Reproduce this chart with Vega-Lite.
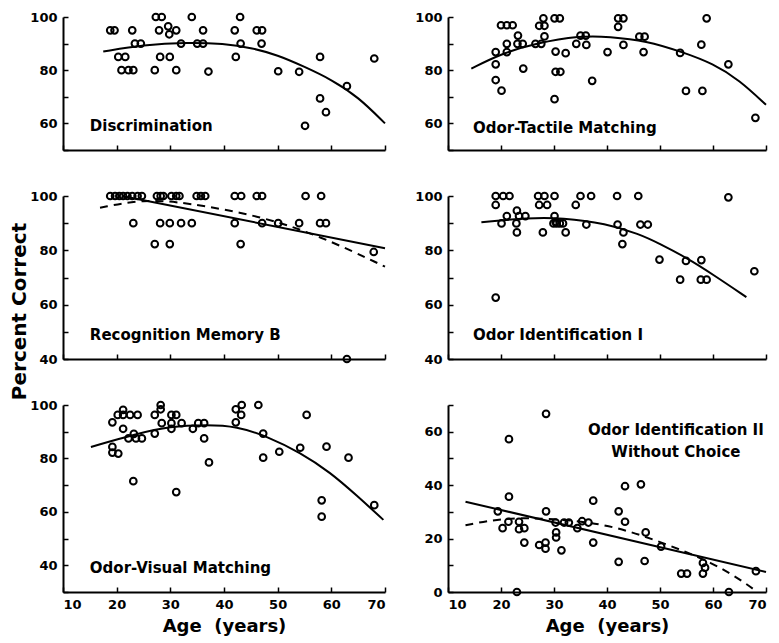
{
"$schema": "https://vega.github.io/schema/vega-lite/v6.json",
"padding": {"left": 9, "top": 9, "right": 5, "bottom": 5},
"config": {
 "view": {"stroke": null},
 "font": "DejaVu Sans",
 "point": {"opacity": 1},
 "axis": {"grid": false, "domainColor": "black", "domainWidth": 2, "tickColor": "black", "tickWidth": 1.5, "tickSize": -5, "ticks": true, "labelFont": "DejaVu Sans", "labelFontWeight": "bold", "labelFontSize": 13, "labelColor": "black", "labelPadding": 11, "titleFont": "DejaVu Sans", "titleFontWeight": "bold", "titleColor": "black", "titleFontSize": 18}
},
"datasets": {
 "pts": [
  {"p":"D","age":27.3,"pct":100},{"p":"D","age":28.4,"pct":100},{"p":"D","age":34,"pct":100},{"p":"D","age":43,"pct":100},
  {"p":"D","age":18.8,"pct":95},{"p":"D","age":19.6,"pct":95},{"p":"D","age":22.9,"pct":95},{"p":"D","age":27.9,"pct":95},{"p":"D","age":29.6,"pct":96.5},{"p":"D","age":29.8,"pct":93.5},{"p":"D","age":31.1,"pct":95},{"p":"D","age":36.1,"pct":95},{"p":"D","age":42,"pct":95},{"p":"D","age":46.1,"pct":95},{"p":"D","age":47.1,"pct":95},
  {"p":"D","age":23.4,"pct":90},{"p":"D","age":24.5,"pct":90},{"p":"D","age":32,"pct":90},{"p":"D","age":35,"pct":90},{"p":"D","age":36.1,"pct":90},{"p":"D","age":43.1,"pct":90},{"p":"D","age":47,"pct":90},
  {"p":"D","age":20.3,"pct":85},{"p":"D","age":21.6,"pct":85},{"p":"D","age":28.1,"pct":85},{"p":"D","age":29.9,"pct":85},{"p":"D","age":42.2,"pct":85},{"p":"D","age":57.9,"pct":85},
  {"p":"D","age":20.9,"pct":80},{"p":"D","age":22.2,"pct":80},{"p":"D","age":23.1,"pct":80},{"p":"D","age":27.1,"pct":80},{"p":"D","age":31.1,"pct":80},{"p":"D","age":37.1,"pct":79.5},{"p":"D","age":50.1,"pct":79.6},{"p":"D","age":54,"pct":79.4},
  {"p":"D","age":68,"pct":84.4},{"p":"D","age":62.9,"pct":74},{"p":"D","age":57.9,"pct":69.4},{"p":"D","age":59,"pct":64.2},{"p":"D","age":55.1,"pct":59.1},

  {"p":"T","age":19,"pct":86.8},{"p":"T","age":19,"pct":82.2},{"p":"T","age":19,"pct":76.3},{"p":"T","age":20.1,"pct":72.3},
  {"p":"T","age":20,"pct":96.9},{"p":"T","age":21.1,"pct":96.9},{"p":"T","age":22.2,"pct":96.9},
  {"p":"T","age":21.1,"pct":89.9},{"p":"T","age":21.1,"pct":86.8},{"p":"T","age":23.2,"pct":93},{"p":"T","age":23.1,"pct":89.9},{"p":"T","age":24.1,"pct":89.9},{"p":"T","age":24.2,"pct":80.6},
  {"p":"T","age":26.5,"pct":89.9},{"p":"T","age":27.6,"pct":89.9},{"p":"T","age":27.2,"pct":96.7},{"p":"T","age":28.2,"pct":96.7},{"p":"T","age":28,"pct":99.5},{"p":"T","age":28.2,"pct":92.7},
  {"p":"T","age":30.1,"pct":99.5},{"p":"T","age":31.1,"pct":99.5},{"p":"T","age":30.3,"pct":87},{"p":"T","age":30.3,"pct":79.4},{"p":"T","age":31.2,"pct":79.4},{"p":"T","age":30.1,"pct":69.1},
  {"p":"T","age":32.2,"pct":86.4},{"p":"T","age":34.2,"pct":89.9},{"p":"T","age":35,"pct":93},{"p":"T","age":36,"pct":93},{"p":"T","age":36.1,"pct":89.5},{"p":"T","age":37.2,"pct":76},
  {"p":"T","age":40.1,"pct":86.8},{"p":"T","age":42.1,"pct":96.3},{"p":"T","age":42.1,"pct":99.5},{"p":"T","age":43.1,"pct":99.5},{"p":"T","age":43.1,"pct":89.5},
  {"p":"T","age":46.1,"pct":92.6},{"p":"T","age":47.1,"pct":92.6},{"p":"T","age":46.9,"pct":86.8},
  {"p":"T","age":53.8,"pct":86.5},{"p":"T","age":54.9,"pct":72.2},{"p":"T","age":57.8,"pct":89.6},{"p":"T","age":58,"pct":72.2},{"p":"T","age":58.8,"pct":99.5},{"p":"T","age":62.9,"pct":82.2},{"p":"T","age":68,"pct":62.1},

  {"p":"R","age":18.8,"pct":100},{"p":"R","age":19.7,"pct":100},{"p":"R","age":20.5,"pct":100},{"p":"R","age":21.2,"pct":100},{"p":"R","age":22,"pct":100},{"p":"R","age":22.9,"pct":100},{"p":"R","age":23.9,"pct":100},{"p":"R","age":24.7,"pct":100},
  {"p":"R","age":27.5,"pct":100},{"p":"R","age":28.2,"pct":100},{"p":"R","age":28.7,"pct":100},{"p":"R","age":30.2,"pct":100},{"p":"R","age":31.1,"pct":100},{"p":"R","age":31.7,"pct":100},
  {"p":"R","age":34.9,"pct":100},{"p":"R","age":35.7,"pct":100},{"p":"R","age":36.5,"pct":100},{"p":"R","age":42,"pct":100},{"p":"R","age":43.2,"pct":100},{"p":"R","age":46.1,"pct":100},{"p":"R","age":47.1,"pct":100},{"p":"R","age":55.2,"pct":100},{"p":"R","age":58.1,"pct":100},
  {"p":"R","age":23.1,"pct":90},{"p":"R","age":28.1,"pct":90},{"p":"R","age":29.9,"pct":90},{"p":"R","age":32,"pct":90},{"p":"R","age":34,"pct":90},{"p":"R","age":42,"pct":90},{"p":"R","age":47.1,"pct":90},{"p":"R","age":50.1,"pct":90},{"p":"R","age":54,"pct":90},{"p":"R","age":57.9,"pct":90},{"p":"R","age":59,"pct":90},
  {"p":"R","age":27.1,"pct":82.3},{"p":"R","age":29.9,"pct":82.3},{"p":"R","age":43.1,"pct":82.3},{"p":"R","age":67.9,"pct":79.4},{"p":"R","age":62.9,"pct":40},

  {"p":"I1","age":19,"pct":100},{"p":"I1","age":19,"pct":96.7},{"p":"I1","age":20.4,"pct":100},{"p":"I1","age":21.6,"pct":100},{"p":"I1","age":21.1,"pct":92.6},{"p":"I1","age":20.1,"pct":89.9},
  {"p":"I1","age":23,"pct":94.6},{"p":"I1","age":23.4,"pct":92.6},{"p":"I1","age":24.6,"pct":92.6},{"p":"I1","age":22.9,"pct":89.9},{"p":"I1","age":23,"pct":86.6},
  {"p":"I1","age":27,"pct":100},{"p":"I1","age":28.2,"pct":100},{"p":"I1","age":27.2,"pct":96.7},{"p":"I1","age":28.7,"pct":96.7},{"p":"I1","age":27.9,"pct":86.6},
  {"p":"I1","age":30.1,"pct":100},{"p":"I1","age":30.1,"pct":92.6},{"p":"I1","age":29.9,"pct":89.9},{"p":"I1","age":30.5,"pct":89.9},{"p":"I1","age":31.1,"pct":89.9},{"p":"I1","age":30.3,"pct":90.5},{"p":"I1","age":31.7,"pct":89.9},{"p":"I1","age":32.2,"pct":86.6},
  {"p":"I1","age":34.1,"pct":96.7},{"p":"I1","age":35,"pct":100},{"p":"I1","age":36.1,"pct":89.5},{"p":"I1","age":37,"pct":100},
  {"p":"I1","age":41.9,"pct":100},{"p":"I1","age":42,"pct":89.5},{"p":"I1","age":43.1,"pct":86.6},{"p":"I1","age":42.9,"pct":82.3},{"p":"I1","age":45.9,"pct":100},{"p":"I1","age":46.3,"pct":89.5},{"p":"I1","age":47.7,"pct":89.5},
  {"p":"I1","age":49.9,"pct":76.6},{"p":"I1","age":53.8,"pct":69.2},{"p":"I1","age":54.9,"pct":76.1},{"p":"I1","age":57.8,"pct":76.4},{"p":"I1","age":57.7,"pct":69.2},{"p":"I1","age":58.8,"pct":69.2},{"p":"I1","age":62.9,"pct":99.5},{"p":"I1","age":67.8,"pct":72.3},{"p":"I1","age":19,"pct":62.6},

  {"p":"V","age":19.2,"pct":93.5},{"p":"V","age":19.2,"pct":84.3},{"p":"V","age":19.2,"pct":82.2},{"p":"V","age":20.3,"pct":81.8},{"p":"V","age":20.2,"pct":96.3},{"p":"V","age":21.2,"pct":98.2},{"p":"V","age":21.2,"pct":96.3},{"p":"V","age":22.5,"pct":96.3},{"p":"V","age":23.9,"pct":96.3},
  {"p":"V","age":21.2,"pct":91.1},{"p":"V","age":22.2,"pct":87.5},{"p":"V","age":23.2,"pct":89.2},{"p":"V","age":23.6,"pct":87.5},{"p":"V","age":24.7,"pct":87.5},{"p":"V","age":23.1,"pct":71.5},
  {"p":"V","age":27.1,"pct":96.3},{"p":"V","age":27.1,"pct":89.3},{"p":"V","age":28.2,"pct":100},{"p":"V","age":28.2,"pct":98.4},{"p":"V","age":28.4,"pct":93.2},
  {"p":"V","age":30.2,"pct":93.2},{"p":"V","age":30.2,"pct":91.1},{"p":"V","age":30.2,"pct":96.3},{"p":"V","age":31.1,"pct":96.3},{"p":"V","age":31.1,"pct":67.4},{"p":"V","age":32.1,"pct":93.2},
  {"p":"V","age":34.2,"pct":91.1},{"p":"V","age":35.2,"pct":93.2},{"p":"V","age":36.3,"pct":93.2},{"p":"V","age":36.3,"pct":87.5},{"p":"V","age":37.2,"pct":78.5},
  {"p":"V","age":42.2,"pct":93.5},{"p":"V","age":42.2,"pct":98.4},{"p":"V","age":43.3,"pct":100},{"p":"V","age":43.2,"pct":96.3},{"p":"V","age":46.4,"pct":100},{"p":"V","age":47.3,"pct":89.3},{"p":"V","age":47.3,"pct":80.3},
  {"p":"V","age":50.3,"pct":82.5},{"p":"V","age":54.2,"pct":84},{"p":"V","age":55.4,"pct":96.3},{"p":"V","age":59.1,"pct":84.4},{"p":"V","age":58.2,"pct":64.3},{"p":"V","age":58.2,"pct":58.2},{"p":"V","age":63.2,"pct":80.3},{"p":"V","age":68,"pct":62.5},

  {"p":"I2","age":19.4,"pct":30.2},{"p":"I2","age":20.3,"pct":23.9},{"p":"I2","age":21.4,"pct":26.3},{"p":"I2","age":21.5,"pct":57.2},{"p":"I2","age":21.5,"pct":35.7},
  {"p":"I2","age":23.4,"pct":26.3},{"p":"I2","age":23.4,"pct":23.5},{"p":"I2","age":24.4,"pct":23.9},{"p":"I2","age":24.4,"pct":18.5},
  {"p":"I2","age":27.2,"pct":17.6},{"p":"I2","age":28.4,"pct":18.5},{"p":"I2","age":28.4,"pct":16.2},{"p":"I2","age":28.5,"pct":66.7},{"p":"I2","age":28.5,"pct":30.2},
  {"p":"I2","age":30.3,"pct":26},{"p":"I2","age":30.4,"pct":22.3},{"p":"I2","age":30.4,"pct":20.4},{"p":"I2","age":31.4,"pct":15.6},{"p":"I2","age":31.9,"pct":26},{"p":"I2","age":32.8,"pct":26},
  {"p":"I2","age":34.4,"pct":23.9},{"p":"I2","age":35.3,"pct":26.5},{"p":"I2","age":36.5,"pct":26},{"p":"I2","age":37.4,"pct":34.2},{"p":"I2","age":37.4,"pct":18.5},
  {"p":"I2","age":42.2,"pct":30.2},{"p":"I2","age":42.2,"pct":11.3},{"p":"I2","age":43.4,"pct":39.6},{"p":"I2","age":43.4,"pct":26.3},{"p":"I2","age":46.4,"pct":40.3},{"p":"I2","age":47.3,"pct":22.3},{"p":"I2","age":47.1,"pct":11.6},
  {"p":"I2","age":50.2,"pct":17},{"p":"I2","age":54,"pct":6.9},{"p":"I2","age":55.1,"pct":6.9},{"p":"I2","age":58.1,"pct":10.9},{"p":"I2","age":58.5,"pct":9.1},{"p":"I2","age":58.1,"pct":6.9},{"p":"I2","age":68.1,"pct":7.8},
  {"p":"I2","age":23,"pct":0},{"p":"I2","age":63,"pct":0}
 ],
 "fit": [
  {"p":"D","k":"s","age":17.5,"pct":87},{"p":"D","k":"s","age":25,"pct":89.5},{"p":"D","k":"s","age":33,"pct":90.5},{"p":"D","k":"s","age":40,"pct":90},{"p":"D","k":"s","age":45,"pct":88.5},{"p":"D","k":"s","age":50,"pct":85.7},{"p":"D","k":"s","age":55,"pct":81.3},{"p":"D","k":"s","age":60,"pct":76.5},{"p":"D","k":"s","age":65,"pct":70},{"p":"D","k":"s","age":70,"pct":60},
  {"p":"T","k":"s","age":14.4,"pct":80.6},{"p":"T","k":"s","age":20,"pct":86.2},{"p":"T","k":"s","age":26.5,"pct":90.1},{"p":"T","k":"s","age":35,"pct":93},{"p":"T","k":"s","age":40.4,"pct":92.6},{"p":"T","k":"s","age":47.4,"pct":91.1},{"p":"T","k":"s","age":54.3,"pct":86.8},{"p":"T","k":"s","age":60,"pct":82.5},{"p":"T","k":"s","age":65,"pct":76.3},{"p":"T","k":"s","age":70,"pct":67},
  {"p":"R","k":"s","age":21,"pct":100},{"p":"R","k":"s","age":70,"pct":80.8},
  {"p":"R","k":"d","age":16.9,"pct":95.7},{"p":"R","k":"d","age":25,"pct":98.8},{"p":"R","k":"d","age":33,"pct":97.6},{"p":"R","k":"d","age":46.7,"pct":92.7},{"p":"R","k":"d","age":57.9,"pct":85.3},{"p":"R","k":"d","age":70,"pct":74},
  {"p":"I1","k":"s","age":16.3,"pct":90.3},{"p":"I1","k":"s","age":25.2,"pct":92},{"p":"I1","k":"s","age":31.5,"pct":92},{"p":"I1","k":"s","age":39.8,"pct":89.9},{"p":"I1","k":"s","age":46.1,"pct":86},{"p":"I1","k":"s","age":49.9,"pct":82.5},{"p":"I1","k":"s","age":55,"pct":77.3},{"p":"I1","k":"s","age":60,"pct":71.1},{"p":"I1","k":"s","age":66.3,"pct":62.8},
  {"p":"V","k":"s","age":15.2,"pct":84.3},{"p":"V","k":"s","age":23.7,"pct":89.2},{"p":"V","k":"s","age":29.9,"pct":92},{"p":"V","k":"s","age":36.8,"pct":92.6},{"p":"V","k":"s","age":42.4,"pct":92},{"p":"V","k":"s","age":48,"pct":88.3},{"p":"V","k":"s","age":54.2,"pct":82.2},{"p":"V","k":"s","age":59.8,"pct":74.8},{"p":"V","k":"s","age":64.7,"pct":66.2},{"p":"V","k":"s","age":69.7,"pct":57},
  {"p":"I2","k":"s","age":13.3,"pct":33.8},{"p":"I2","k":"s","age":70,"pct":7.5},
  {"p":"I2","k":"d","age":13.3,"pct":25},{"p":"I2","k":"d","age":20.8,"pct":27.9},{"p":"I2","k":"d","age":29.7,"pct":27.5},{"p":"I2","k":"d","age":40.4,"pct":25.4},{"p":"I2","k":"d","age":50.5,"pct":18.5},{"p":"I2","k":"d","age":60,"pct":11},{"p":"I2","k":"d","age":66.3,"pct":3.1},{"p":"I2","k":"d","age":68,"pct":0.5}
 ],
 "lab": [
  {"p":"D","age":15,"pct":59,"t":"Discrimination"},
  {"p":"T","age":14.7,"pct":58.3,"t":"Odor-Tactile Matching"},
  {"p":"R","age":15,"pct":48.9,"t":"Recognition Memory B"},
  {"p":"I1","age":14.7,"pct":49,"t":"Odor Identification I"},
  {"p":"V","age":15,"pct":39,"t":"Odor-Visual Matching"},
  {"p":"I2","age":53,"pct":60.5,"t":"Odor Identification II"},
  {"p":"I2","age":53,"pct":52.5,"t":"Without Choice"}
 ]
},
"columns": 2,
"spacing": {"row": 46, "column": 63},
"bounds": "flush",
"concat": [
 {"width": 322, "height": 133,
  "encoding": {
   "x": {"field": "age", "type": "quantitative", "scale": {"domain": [10, 70], "nice": false}, "axis": {"values": [10,20,30,40,50,60,70], "labels": false, "title": null}},
   "y": {"field": "pct", "type": "quantitative", "scale": {"domain": [50, 100], "nice": false, "zero": false}, "axis": {"values": [50,60,70,80,90,100], "labelExpr": "datum.value % 20 == 0 ? datum.label : ''", "title": null}}
  },
  "layer": [
   {"data": {"name": "pts"}, "transform": [{"filter": "datum.p == 'D'"}], "mark": {"type": "point", "shape": "circle", "filled": false, "size": 45, "strokeWidth": 2, "color": "black", "opacity": 1}},
   {"data": {"name": "fit"}, "transform": [{"filter": "datum.p == 'D' && datum.k == 's'"}], "mark": {"type": "line", "interpolate": "basis", "color": "black", "strokeWidth": 2}},
   {"data": {"name": "lab"}, "transform": [{"filter": "datum.p == 'D'"}], "mark": {"type": "text", "align": "left", "baseline": "middle", "fontWeight": "bold", "fontSize": 15, "color": "black"}, "encoding": {"text": {"field": "t"}}}
  ]},
 {"width": 318, "height": 133,
  "encoding": {
   "x": {"field": "age", "type": "quantitative", "scale": {"domain": [10, 70], "nice": false}, "axis": {"values": [10,20,30,40,50,60,70], "labels": false, "title": null}},
   "y": {"field": "pct", "type": "quantitative", "scale": {"domain": [50, 100], "nice": false, "zero": false}, "axis": {"values": [50,60,70,80,90,100], "labelExpr": "datum.value % 20 == 0 ? datum.label : ''", "title": null}}
  },
  "layer": [
   {"data": {"name": "pts"}, "transform": [{"filter": "datum.p == 'T'"}], "mark": {"type": "point", "shape": "circle", "filled": false, "size": 45, "strokeWidth": 2, "color": "black", "opacity": 1}},
   {"data": {"name": "fit"}, "transform": [{"filter": "datum.p == 'T' && datum.k == 's'"}], "mark": {"type": "line", "interpolate": "basis", "color": "black", "strokeWidth": 2}},
   {"data": {"name": "lab"}, "transform": [{"filter": "datum.p == 'T'"}], "mark": {"type": "text", "align": "left", "baseline": "middle", "fontWeight": "bold", "fontSize": 15, "color": "black"}, "encoding": {"text": {"field": "t"}}}
  ]},
 {"width": 322, "height": 163,
  "encoding": {
   "x": {"field": "age", "type": "quantitative", "scale": {"domain": [10, 70], "nice": false}, "axis": {"values": [10,20,30,40,50,60,70], "labels": false, "title": null}},
   "y": {"field": "pct", "type": "quantitative", "scale": {"domain": [40, 100], "nice": false, "zero": false}, "axis": {"values": [40,50,60,70,80,90,100], "labelExpr": "datum.value % 20 == 0 ? datum.label : ''", "title": "Percent Correct", "titleFontSize": 20, "titleY": 115, "titlePadding": 0}}
  },
  "layer": [
   {"data": {"name": "pts"}, "transform": [{"filter": "datum.p == 'R'"}], "mark": {"type": "point", "shape": "circle", "filled": false, "size": 45, "strokeWidth": 2, "color": "black", "opacity": 1}},
   {"data": {"name": "fit"}, "transform": [{"filter": "datum.p == 'R' && datum.k == 's'"}], "mark": {"type": "line", "interpolate": "basis", "color": "black", "strokeWidth": 2}},
   {"data": {"name": "fit"}, "transform": [{"filter": "datum.p == 'R' && datum.k == 'd'"}], "mark": {"type": "line", "interpolate": "basis", "color": "black", "strokeWidth": 2, "strokeDash": [8, 6]}},
   {"data": {"name": "lab"}, "transform": [{"filter": "datum.p == 'R'"}], "mark": {"type": "text", "align": "left", "baseline": "middle", "fontWeight": "bold", "fontSize": 15, "color": "black"}, "encoding": {"text": {"field": "t"}}}
  ]},
 {"width": 318, "height": 163,
  "encoding": {
   "x": {"field": "age", "type": "quantitative", "scale": {"domain": [10, 70], "nice": false}, "axis": {"values": [10,20,30,40,50,60,70], "labels": false, "title": null}},
   "y": {"field": "pct", "type": "quantitative", "scale": {"domain": [40, 100], "nice": false, "zero": false}, "axis": {"values": [40,50,60,70,80,90,100], "labelExpr": "datum.value % 20 == 0 ? datum.label : ''", "title": null}}
  },
  "layer": [
   {"data": {"name": "pts"}, "transform": [{"filter": "datum.p == 'I1'"}], "mark": {"type": "point", "shape": "circle", "filled": false, "size": 45, "strokeWidth": 2, "color": "black", "opacity": 1}},
   {"data": {"name": "fit"}, "transform": [{"filter": "datum.p == 'I1' && datum.k == 's'"}], "mark": {"type": "line", "interpolate": "basis", "color": "black", "strokeWidth": 2}},
   {"data": {"name": "lab"}, "transform": [{"filter": "datum.p == 'I1'"}], "mark": {"type": "text", "align": "left", "baseline": "middle", "fontWeight": "bold", "fontSize": 15, "color": "black"}, "encoding": {"text": {"field": "t"}}}
  ]},
 {"width": 322, "height": 187,
  "encoding": {
   "x": {"field": "age", "type": "quantitative", "scale": {"domain": [10, 70], "nice": false}, "axis": {"values": [10,20,30,40,50,60,70], "title": "Age\u00a0\u00a0(years)", "titlePadding": 6}},
   "y": {"field": "pct", "type": "quantitative", "scale": {"domain": [30, 100], "nice": false, "zero": false}, "axis": {"values": [30,40,50,60,70,80,90,100], "labelExpr": "datum.value % 20 == 0 ? datum.label : ''", "title": null}}
  },
  "layer": [
   {"data": {"name": "pts"}, "transform": [{"filter": "datum.p == 'V'"}], "mark": {"type": "point", "shape": "circle", "filled": false, "size": 45, "strokeWidth": 2, "color": "black", "opacity": 1}},
   {"data": {"name": "fit"}, "transform": [{"filter": "datum.p == 'V' && datum.k == 's'"}], "mark": {"type": "line", "interpolate": "basis", "color": "black", "strokeWidth": 2}},
   {"data": {"name": "lab"}, "transform": [{"filter": "datum.p == 'V'"}], "mark": {"type": "text", "align": "left", "baseline": "middle", "fontWeight": "bold", "fontSize": 15, "color": "black"}, "encoding": {"text": {"field": "t"}}}
  ]},
 {"width": 318, "height": 187,
  "encoding": {
   "x": {"field": "age", "type": "quantitative", "scale": {"domain": [10, 70], "nice": false}, "axis": {"values": [10,20,30,40,50,60,70], "title": "Age\u00a0\u00a0(years)", "titlePadding": 6}},
   "y": {"field": "pct", "type": "quantitative", "scale": {"domain": [0, 70], "nice": false, "zero": false}, "axis": {"values": [0,10,20,30,40,50,60,70], "labelExpr": "datum.value % 20 == 0 ? datum.label : ''", "title": null}}
  },
  "layer": [
   {"data": {"name": "pts"}, "transform": [{"filter": "datum.p == 'I2'"}], "mark": {"type": "point", "shape": "circle", "filled": false, "size": 45, "strokeWidth": 2, "color": "black", "opacity": 1}},
   {"data": {"name": "fit"}, "transform": [{"filter": "datum.p == 'I2' && datum.k == 's'"}], "mark": {"type": "line", "interpolate": "linear", "color": "black", "strokeWidth": 2}},
   {"data": {"name": "fit"}, "transform": [{"filter": "datum.p == 'I2' && datum.k == 'd'"}], "mark": {"type": "line", "interpolate": "basis", "color": "black", "strokeWidth": 2, "strokeDash": [8, 6]}},
   {"data": {"name": "lab"}, "transform": [{"filter": "datum.p == 'I2'"}], "mark": {"type": "text", "align": "center", "baseline": "middle", "fontWeight": "bold", "fontSize": 15, "color": "black"}, "encoding": {"text": {"field": "t"}}}
  ]}
]
}
